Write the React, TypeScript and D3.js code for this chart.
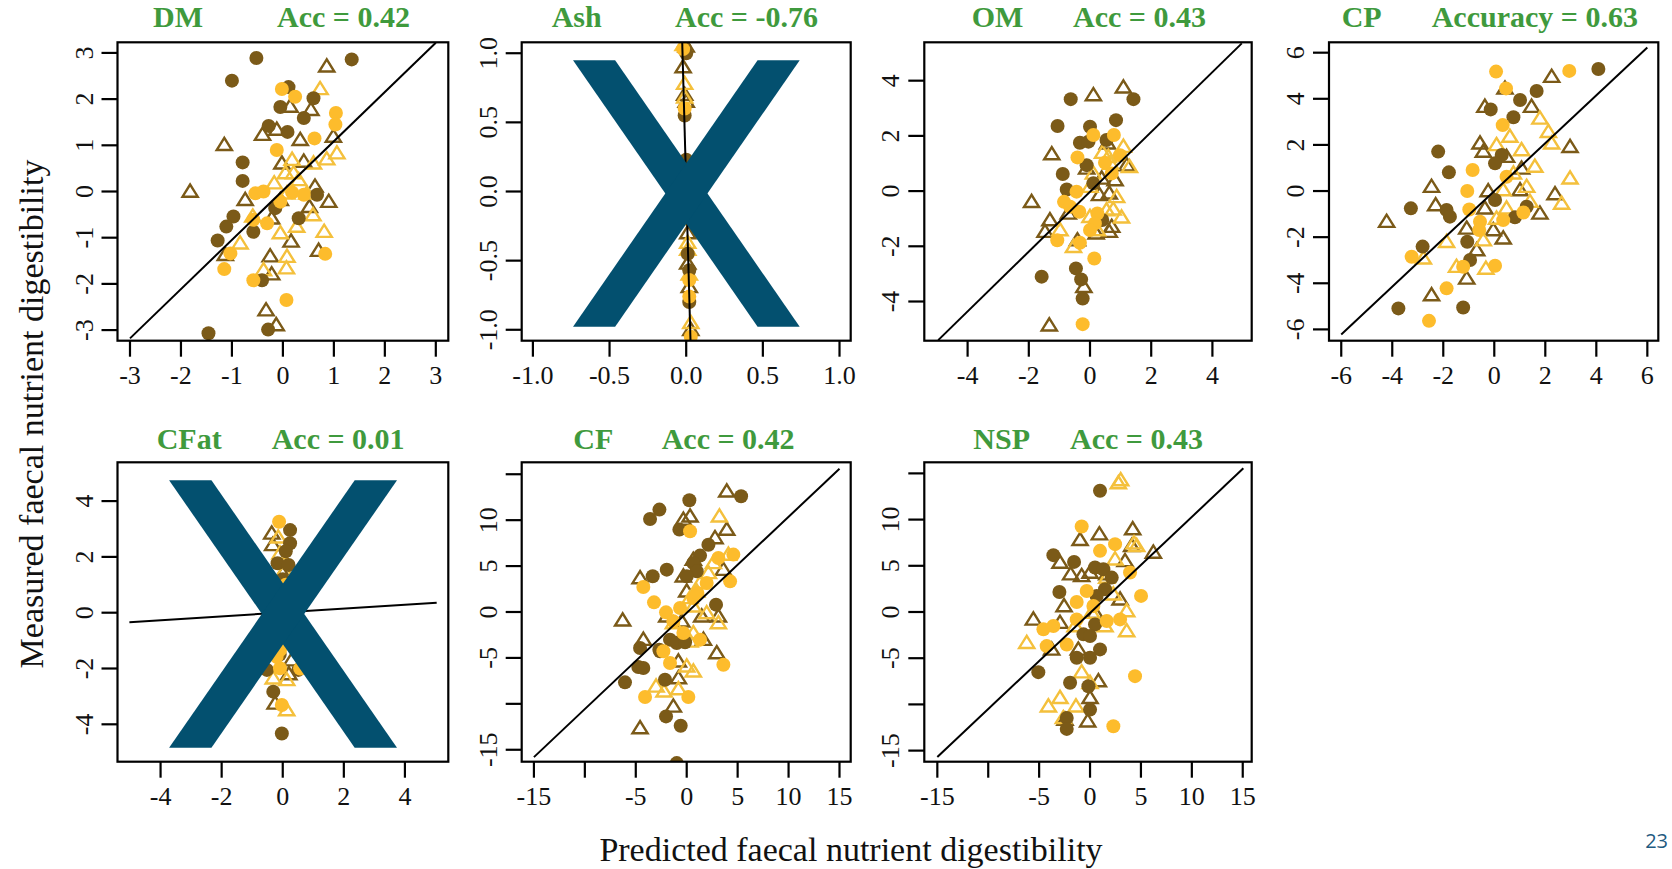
import React from 'react';
import * as d3 from 'd3';

// ---------- data ----------
const PANEL_NAMES = ['DM', 'Ash', 'OM', 'CP', 'CFat', 'CF', 'NSP'];
const ACC_LABELS = ['Acc = 0.42', 'Acc = -0.76', 'Acc = 0.43', 'Accuracy = 0.63', 'Acc = 0.01', 'Acc = 0.42', 'Acc = 0.43'];
const X_DOMAINS = [[-3.245, 3.245], [-1.073, 1.073], [-5.415, 5.284], [-6.48, 6.43], [-5.41, 5.42], [-16.2, 16.1], [-16.28, 15.88]];
const Y_DOMAINS = [[-3.23, 3.23], [-1.079, 1.079], [-5.42, 5.39], [-6.49, 6.45], [-5.34, 5.39], [-16.3, 16.3], [-16.2, 16.2]];
const X_TICKS = [
  [-3, -2, -1, 0, 1, 2, 3], [-1, -0.5, 0, 0.5, 1], [-4, -2, 0, 2, 4], [-6, -4, -2, 0, 2, 4, 6],
  [-4, -2, 0, 2, 4], [-15, -10, -5, 0, 5, 10, 15], [-15, -10, -5, 0, 5, 10, 15]];
const X_TICK_LABELS = [
  ['-3', '-2', '-1', '0', '1', '2', '3'], ['-1.0', '-0.5', '0.0', '0.5', '1.0'], ['-4', '-2', '0', '2', '4'],
  ['-6', '-4', '-2', '0', '2', '4', '6'], ['-4', '-2', '0', '2', '4'],
  ['-15', '', '-5', '0', '5', '10', '15'], ['-15', '', '-5', '0', '5', '10', '15']];
const Y_TICKS = X_TICKS;
const Y_TICK_LABELS = [
  ['-3', '-2', '-1', '0', '1', '2', '3'], ['-1.0', '-0.5', '0.0', '0.5', '1.0'], ['-4', '-2', '0', '2', '4'],
  ['-6', '-4', '-2', '0', '2', '4', '6'], ['-4', '-2', '0', '2', '4'],
  ['-15', '', '-5', '0', '5', '10', ''], ['-15', '', '-5', '0', '5', '10', '']];
// fitted line endpoints [x1, y1, x2, y2]
const FIT_LINES = [
  [-3, -3.18, 3, 3.22], [-0.026, 1.079, 0.028, -1.079], [-4.96, -5.4, 4.96, 5.35], [-6, -6.22, 6, 6.22],
  [-5.02, -0.344, 5.04, 0.358], [-15, -15.8, 15, 15.6], [-15, -15.7, 15.06, 15.55]];
const CROSSED = [false, true, false, false, true, false, false];

// DM
const DM_DC = [[-0.52, 2.89], [1.35, 2.86], [-1.0, 2.4], [0.11, 2.26], [0.6, 2.02], [-0.05, 1.83], [0.41, 1.59], [-0.28, 1.42], [0.09, 1.29], [-0.79, 0.63], [-0.79, 0.23], [0.67, -0.07], [-0.15, -0.36], [-0.97, -0.54], [-1.11, -0.76], [-0.58, -0.87], [0.31, -0.58], [-1.28, -1.06], [-0.41, -1.92], [-0.29, -2.99], [-1.46, -3.07]];
const DM_LC = [[-0.02, 2.22], [0.24, 2.05], [1.04, 1.7], [1.03, 1.45], [-0.12, 0.9], [-0.54, -0.04], [-0.38, 0.0], [0.18, -0.02], [-0.05, -0.22], [-0.58, -0.61], [-0.31, -0.69], [-1.03, -1.34], [-1.15, -1.68], [-0.58, -1.92], [0.83, -1.35], [0.07, -2.35], [0.41, -0.07], [0.62, 1.15]];
const DM_DT = [[0.86, 2.71], [0.55, 1.77], [0.14, 1.84], [-0.12, 1.34], [-0.4, 1.23], [-1.15, 1.01], [0.34, 1.12], [0.99, 1.19], [-1.82, 0.0], [-0.74, -0.18], [-0.02, 0.61], [0.41, 0.65], [0.63, 0.11], [0.9, -0.22], [0.52, -0.33], [-0.22, -0.58], [-0.05, -0.18], [0.16, -1.08], [0.7, -1.28], [-0.25, -1.4], [-1.13, -1.37], [-0.22, -1.79], [-0.33, -2.57], [-0.13, -2.89]];
const DM_LT = [[0.73, 2.22], [1.06, 0.83], [0.86, 0.7], [0.18, 0.69], [0.6, 0.61], [0.05, 0.4], [0.21, 0.4], [0.31, 0.25], [-0.17, 0.18], [0.47, -0.04], [0.08, -0.04], [0.59, -0.51], [0.27, -0.76], [-0.05, -0.9], [0.81, -0.87], [-0.84, -1.12], [0.08, -1.41], [0.07, -1.66], [-0.38, -1.7], [-0.59, -0.54]];

// Ash
const ASH_DC = [[-0.01, 1.04], [0.0, 1.0], [-0.01, 0.55], [0.0, 0.23], [0.01, -0.45], [0.02, -0.57], [0.02, -0.8], [0.0, 0.05], [0.01, -0.1]];
const ASH_LC = [[-0.02, 1.03], [-0.01, 0.6], [0.01, -0.2], [0.02, -0.64], [0.02, -0.76], [0.03, -1.05]];
const ASH_DT = [[-0.02, 0.9], [-0.01, 0.7], [0.0, 0.65], [0.01, -0.3], [0.01, -0.52], [0.02, -0.69], [0.03, -1.0], [0.0, 1.05]];
const ASH_LT = [[-0.02, 1.06], [-0.01, 0.78], [-0.01, 0.68], [0.01, -0.37], [0.01, -0.42], [0.02, -0.6], [0.03, -0.95]];

// OM
const OM_DC = [[-0.63, 3.33], [1.42, 3.33], [-1.06, 2.36], [0.85, 2.57], [0.0, 2.33], [-0.33, 1.75], [-0.05, 1.79], [-0.89, 0.62], [-0.76, 0.06], [-0.11, 0.94], [0.11, 0.28], [0.4, -1.05], [-1.58, -3.1], [-0.46, -2.8], [-0.29, -3.2], [-0.24, -3.89], [0.54, 1.85]];
const OM_LC = [[0.11, 2.03], [0.78, 2.03], [-0.41, 1.22], [0.49, 1.03], [0.71, 0.64], [-0.44, -0.02], [-0.85, -0.39], [-0.65, -0.57], [-0.35, -0.75], [0.24, -0.81], [0.16, -1.17], [0.0, -1.41], [-1.07, -1.78], [-0.33, -1.87], [0.14, -2.44], [-0.24, -4.82], [0.98, 1.3]];
const OM_DT = [[0.11, 3.48], [1.09, 3.76], [-1.25, 1.34], [0.57, 1.73], [-0.11, 0.82], [0.38, 0.46], [0.82, 0.4], [-1.91, -0.39], [-1.31, -1.05], [-1.47, -1.47], [-0.71, -0.81], [0.31, -0.14], [0.63, -0.08], [0.71, -1.29], [0.63, -1.47], [-0.41, -1.78], [0.2, -1.53], [-0.2, -3.47], [-1.33, -4.86], [1.2, 0.94]];
const OM_LT = [[1.09, 1.61], [0.41, 1.39], [0.67, 1.0], [1.29, 0.88], [0.6, 1.24], [0.11, 0.64], [0.87, -0.21], [0.76, -0.66], [1.03, -0.95], [0.54, -0.69], [0.0, -0.93], [-0.98, -1.41], [-0.54, -2.02], [0.24, -1.41], [0.0, 0.16]];

// CP
const CP_DC = [[4.08, 5.29], [1.66, 4.34], [1.01, 3.95], [-0.14, 3.54], [0.75, 3.2], [-2.2, 1.71], [0.29, 1.56], [0.03, 1.2], [-1.78, 0.81], [-3.27, -0.75], [-1.87, -0.82], [-1.74, -1.11], [0.03, -0.39], [0.81, -1.14], [1.27, -0.68], [-2.81, -2.41], [-1.06, -2.2], [-0.95, -2.99], [-3.76, -5.09], [-1.22, -5.05]];
const CP_LC = [[0.07, 5.18], [2.94, 5.21], [0.46, 4.45], [0.33, 2.86], [-0.85, 0.91], [0.48, 0.62], [-1.06, 0.0], [-0.98, -0.8], [-0.56, -1.33], [-0.59, -1.69], [1.14, -0.93], [-3.24, -2.85], [0.03, -3.24], [-1.87, -4.22], [-2.56, -5.63], [-1.22, -3.28], [0.35, -1.26]];
const CP_DT = [[2.25, 4.96], [0.42, 4.45], [-0.37, 3.66], [1.46, 3.66], [-0.56, 2.07], [-0.43, 1.71], [2.97, 1.92], [0.48, 1.49], [-2.46, 0.19], [-2.3, -0.61], [-4.22, -1.33], [-0.24, 0.0], [1.01, 0.04], [1.07, 0.98], [-0.37, -0.75], [1.79, -0.97], [2.38, -0.13], [-1.08, -1.62], [0.35, -2.05], [-0.69, -2.56], [-1.08, -3.79], [-2.46, -4.51], [-0.04, -1.69]];
const CP_LT = [[1.79, 3.15], [0.61, 2.36], [0.09, 2.0], [1.07, 1.78], [2.12, 2.57], [2.25, 2.07], [1.59, 1.06], [2.97, 0.55], [0.75, 0.77], [1.27, 0.19], [1.4, -0.46], [2.64, -0.54], [0.48, -0.75], [0.35, 0.04], [-1.87, -2.2], [-0.43, -2.13], [-2.78, -2.92], [-1.48, -3.28], [-0.33, -3.36], [0.09, -1.19]];

// CFat
const CFAT_DC = [[0.24, 2.96], [0.24, 2.49], [-0.17, 1.77], [0.19, 1.71], [-0.52, -2.05], [0.51, -2.05], [-0.31, -2.83], [-0.03, -4.33], [0.1, 2.2], [0.0, 1.2], [-0.1, -1.5]];
const CFAT_LC = [[-0.12, 3.26], [-0.09, -1.99], [-0.2, -1.58], [0.57, -2.0], [-0.09, -1.34], [-0.03, -3.31], [0.1, 1.0]];
const CFAT_DT = [[-0.36, 2.84], [-0.33, 2.43], [0.29, -1.7], [-0.25, -3.25], [0.0, 1.4], [0.2, -2.2]];
const CFAT_LT = [[-0.09, 2.13], [0.05, 1.5], [-0.31, -2.35], [0.13, -2.41], [0.13, -3.49], [-0.15, 2.7]];

// CF
const CF_DC = [[0.26, 12.16], [5.34, 12.6], [-2.68, 11.15], [-3.6, 10.13], [-0.72, 8.97], [2.13, 7.33], [1.31, 6.14], [0.65, 5.34], [0.98, 4.43], [-1.96, 4.61], [-3.34, 3.89], [0.0, 3.89], [2.88, 0.8], [-4.58, -3.92], [-2.62, -4.28], [-1.64, -3.01], [-0.98, -3.38], [-0.16, -3.3], [-4.75, -5.99], [-4.26, -6.1], [-6.06, -7.66], [-2.13, -7.37], [-2.03, -11.37], [-0.59, -12.38], [-0.98, -16.45], [-2.69, -4.1]];
const CF_LC = [[0.33, 8.79], [3.11, 5.88], [4.58, 6.25], [4.26, 3.34], [-4.26, 2.72], [-3.21, 1.05], [-2.03, -0.04], [-0.65, 0.44], [0.65, 1.53], [1.05, 2.07], [1.96, 3.16], [-1.31, -1.02], [-2.29, -4.28], [-1.64, -5.56], [3.6, -5.74], [-4.09, -9.26], [0.16, -9.26], [-0.33, -2.29], [1.31, -3.01]];
const CF_DT = [[3.93, 13.14], [0.33, 10.42], [-0.33, 10.06], [3.93, 8.97], [2.78, 8.06], [0.65, 5.7], [3.6, 4.61], [-4.58, 3.7], [-0.33, 3.89], [0.0, 2.25], [-6.29, -0.91], [-1.96, -0.47], [-0.49, -1.02], [1.47, -0.47], [3.11, -0.47], [-4.26, -3.01], [-0.65, -3.01], [1.64, -3.01], [2.95, -4.47], [-0.82, -5.37], [-0.82, -7.19], [-1.31, -10.28], [-4.58, -12.64]];
const CF_LT = [[3.21, 10.42], [4.09, 6.25], [2.62, 5.34], [2.13, 4.25], [1.31, 3.16], [0.98, 2.25], [0.33, 1.53], [0.65, 0.62], [1.96, -0.11], [3.11, -1.2], [0.65, -2.29], [0.33, -3.2], [0.65, -6.46], [0.0, -5.92], [-3.01, -8.1], [-2.23, -8.64], [-0.82, -8.39], [-1.31, -1.2]];

// NSP
const NSP_DC = [[0.98, 13.12], [-3.6, 6.15], [-1.57, 5.42], [0.49, 4.81], [1.31, 4.63], [2.13, 3.72], [-3.01, 2.17], [1.47, 2.46], [0.65, 1.74], [0.49, -1.34], [-0.65, -2.42], [0.0, -2.6], [0.98, -4.05], [-1.31, -4.95], [0.0, -4.95], [-5.08, -6.51], [-1.96, -7.66], [-0.16, -8.03], [0.0, -10.56], [-2.29, -11.46], [-2.29, -12.65]];
const NSP_LC = [[-0.82, 9.26], [2.46, 7.34], [0.98, 6.62], [3.93, 4.27], [5.01, 1.74], [-0.33, 2.28], [-1.31, 1.08], [-4.58, -1.88], [-3.6, -1.52], [-4.26, -3.69], [-2.29, -3.51], [1.64, -0.98], [2.95, -0.8], [-1.31, -0.8], [4.42, -6.94], [2.29, -12.36], [0.33, 0.65]];
const NSP_DT = [[0.92, 8.42], [-0.98, 7.81], [4.19, 8.97], [4.09, 7.16], [6.22, 6.44], [3.44, 5.53], [-2.95, 5.35], [-1.9, 4.09], [-0.82, 3.9], [0.0, 4.27], [1.64, 4.09], [2.95, 1.37], [-2.55, 0.65], [-5.57, -0.8], [-2.95, -1.16], [0.49, -0.07], [-3.77, -4.05], [-1.15, -4.05], [0.82, -7.48], [0.0, -9.29], [-0.23, -11.82], [-2.46, -11.64]];
const NSP_LT = [[3.01, 14.28], [2.78, 13.95], [4.32, 7.45], [4.58, 7.16], [2.46, 5.71], [1.64, 3.72], [2.29, 1.92], [3.6, 0.11], [3.6, -2.06], [0.16, -0.07], [1.47, -1.52], [-1.47, -1.52], [-6.22, -3.33], [-0.82, -6.51], [0.0, -7.66], [-2.95, -9.29], [-4.09, -10.2], [-1.38, -10.2], [-2.62, -11.46]];

const DARK_CIRCLES = [DM_DC, ASH_DC, OM_DC, CP_DC, CFAT_DC, CF_DC, NSP_DC];
const LIGHT_CIRCLES = [DM_LC, ASH_LC, OM_LC, CP_LC, CFAT_LC, CF_LC, NSP_LC];
const DARK_TRIANGLES = [DM_DT, ASH_DT, OM_DT, CP_DT, CFAT_DT, CF_DT, NSP_DT];
const LIGHT_TRIANGLES = [DM_LT, ASH_LT, OM_LT, CP_LT, CFAT_LT, CF_LT, NSP_LT];

// ---------- layout & style ----------
const W = 1672, H = 869;
const PANEL_ROW = [0, 0, 0, 0, 1, 1, 1];
const PANEL_COL = [0, 1, 2, 3, 0, 1, 2];
const COL_X = [117.5, 521.7, 924.3, 1329];
const COL_W = [330.8, 329, 327.4, 329.3];
const ROW_Y = [42.3, 462.3];
const ROW_H = [298.4, 299.4];
// title offsets from box left: [name x, acc x]
const TITLE_OFFSETS = [[35.5, 159.5], [30, 153.3], [47.4, 148.7], [12.7, 102.7], [39.2, 154.2], [51.6, 140], [49, 145.7]];
const TITLE_BASELINE = [27.3, 449.3];

const DARK = '#7b5a18';
const LIGHT = '#fdbc2c';
const LIGHT_TRI = '#f4c03c';
const GREEN = '#3f9a3d';
const X_COLOR = '#03506f';
const SERIF = '"Liberation Serif", "Times New Roman", serif';

function triPath(x: number, y: number) {
  return `M${x},${y - 7}L${x - 7.6},${y + 5.2}L${x + 7.6},${y + 5.2}Z`;
}

function Panel({ i }: { i: number }) {
  const row = PANEL_ROW[i], col = PANEL_COL[i];
  const x0 = COL_X[col], w = COL_W[col], y0 = ROW_Y[row], h = ROW_H[row];
  const xs = d3.scaleLinear().domain(X_DOMAINS[i]).range([x0, x0 + w]);
  const ys = d3.scaleLinear().domain(Y_DOMAINS[i]).range([y0 + h, y0]);
  const clipId = `clip${i}`;
  const [lx1, ly1, lx2, ly2] = FIT_LINES[i];
  const line = d3.line<number[]>().x(d => xs(d[0])).y(d => ys(d[1]));
  const tickLen = 16;
  const xb = y0 + h;

  // X overlay polygon in box fractions
  const L = x0 + w * 0.156, R = x0 + w * 0.845, T = y0 + h * 0.06, B = y0 + h * 0.953, s = w * 0.128;

  return (
    <g>
      <defs>
        <clipPath id={clipId}>
          <rect x={x0} y={y0} width={w} height={h} />
        </clipPath>
      </defs>
      <g clipPath={`url(#${clipId})`}>
        {DARK_TRIANGLES[i].map((d, k) => (
          <path key={'dt' + k} d={triPath(xs(d[0]), ys(d[1]))} fill="none" stroke={DARK} strokeWidth={2.4} />
        ))}
        {LIGHT_TRIANGLES[i].map((d, k) => (
          <path key={'lt' + k} d={triPath(xs(d[0]), ys(d[1]))} fill="none" stroke={LIGHT_TRI} strokeWidth={2.4} />
        ))}
        {DARK_CIRCLES[i].map((d, k) => (
          <circle key={'dc' + k} cx={xs(d[0])} cy={ys(d[1])} r={7} fill={DARK} />
        ))}
        {LIGHT_CIRCLES[i].map((d, k) => (
          <circle key={'lc' + k} cx={xs(d[0])} cy={ys(d[1])} r={7} fill={LIGHT} />
        ))}
        <path d={line([[lx1, ly1], [lx2, ly2]]) || ''} stroke="#000" strokeWidth={2} fill="none" />
      </g>
      <rect x={x0} y={y0} width={w} height={h} fill="none" stroke="#000" strokeWidth={2.2} />
      {/* x axis */}
      {X_TICKS[i].map((t, k) => (
        <g key={'xt' + k}>
          <line x1={xs(t)} x2={xs(t)} y1={xb} y2={xb + tickLen} stroke="#000" strokeWidth={2.2} />
          <text x={xs(t)} y={xb + 43.5} textAnchor="middle" fontFamily={SERIF} fontSize={26} fill="#111">
            {X_TICK_LABELS[i][k]}
          </text>
        </g>
      ))}
      {/* y axis */}
      {Y_TICKS[i].map((t, k) => (
        <g key={'yt' + k}>
          <line x1={x0} x2={x0 - tickLen} y1={ys(t)} y2={ys(t)} stroke="#000" strokeWidth={2.2} />
          <text transform={`translate(${x0 - 25},${ys(t)}) rotate(-90)`} textAnchor="middle"
            fontFamily={SERIF} fontSize={26} fill="#111">
            {Y_TICK_LABELS[i][k]}
          </text>
        </g>
      ))}
      {/* title */}
      <text x={x0 + TITLE_OFFSETS[i][0]} y={TITLE_BASELINE[row]} fontFamily={SERIF} fontWeight="bold" fontSize={30} fill={GREEN}>
        {PANEL_NAMES[i]}
      </text>
      <text x={x0 + TITLE_OFFSETS[i][1]} y={TITLE_BASELINE[row]} fontFamily={SERIF} fontWeight="bold" fontSize={30} fill={GREEN}>
        {ACC_LABELS[i]}
      </text>
      {CROSSED[i] && (
        <g fill={X_COLOR}>
          <polygon points={`${L},${T} ${L + s},${T} ${R},${B} ${R - s},${B}`} />
          <polygon points={`${R - s},${T} ${R},${T} ${L + s},${B} ${L},${B}`} />
        </g>
      )}
    </g>
  );
}

export default function App() {
  return (
    <svg width={W} height={H} style={{ position: 'absolute', left: 0, top: 0, display: 'block', background: '#fff' }}>
      <rect x={0} y={0} width={W} height={H} fill="#fff" />
      {PANEL_NAMES.map((_, i) => <Panel key={i} i={i} />)}
      <text transform="translate(43,414) rotate(-90)" textAnchor="middle" fontFamily={SERIF} fontSize={34} fill="#111">
        Measured faecal nutrient digestibility
      </text>
      <text x={851} y={861} textAnchor="middle" fontFamily={SERIF} fontSize={34} fill="#111">
        Predicted faecal nutrient digestibility
      </text>
      <text x={1668} y={848} textAnchor="end" fontFamily='"Open Sans", sans-serif' fontSize={20} fill="#1f5a80">23</text>
    </svg>
  );
}
